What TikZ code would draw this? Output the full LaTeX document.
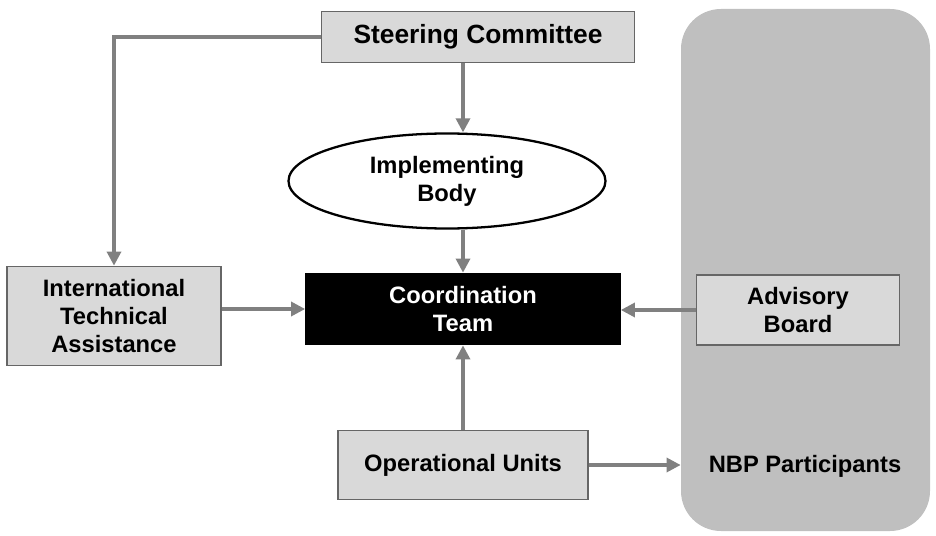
\documentclass[tikz,border=0pt]{standalone}
\usepackage{fontspec}
\setmainfont{Liberation Sans}
\usetikzlibrary{arrows.meta,shapes.geometric}

\tikzset{
  box/.style={draw=black!60, line width=1pt, fill=black!15, align=center,
    font=\fontsize{13.5}{16}\selectfont\bfseries, inner sep=0pt},
  arr/.style={draw=black!50, line width=1.8pt, -{Triangle[length=8pt,width=8pt]}}
}

\begin{document}
\begin{tikzpicture}
\useasboundingbox (0,0) rectangle (18.72,10.7);
\node[draw=none, fill=black!25, rounded corners=0.8cm, minimum width=4.98cm, minimum height=10.44cm] (grp) at (16.11,5.3) {};
\node[font=\fontsize{13.5}{16}\selectfont\bfseries] (nbp) at (16.1,1.38) {NBP Participants};
\node[box, minimum width=6.26cm, minimum height=1.02cm, font=\fontsize{15}{18}\selectfont\bfseries] (sc) at (9.56,9.96) {Steering Committee};
\node[ellipse, draw=black, line width=1.3pt, fill=white, inner sep=0pt, minimum width=6.34cm, minimum height=1.9cm, align=center, font=\fontsize{13.5}{16}\selectfont\bfseries] (ib) at (8.94,7.08) {Implementing\\Body};
\node[box, draw=black, fill=black, text=white, minimum width=6.28cm, minimum height=1.42cm] (ct) at (9.26,4.52) {Coordination\\Team};
\node[box, minimum width=4.28cm, minimum height=1.98cm] (ita) at (2.28,4.38) {International\\Technical\\Assistance};
\node[box, minimum width=4.06cm, minimum height=1.4cm] (ab) at (15.96,4.5) {Advisory\\Board};
\node[box, minimum width=5.0cm, minimum height=1.38cm] (ou) at (9.26,1.4) {Operational Units};
% connectors
\draw[arr] (sc.south -| ct) -- (ib.north -| ct);
\draw[arr] (ib.south -| ct) -- (ct.north);
\draw[arr] (sc.west) -| (ita.north);
\draw[arr] (ita.east |- ct.west) -- (ct.west);
\draw[arr] (ab.west) -- (ab.west -| ct.east);
\draw[arr] (ou.north) -- (ct.south);
\draw[arr] (ou.east) -- (ou.east -| grp.west);
\end{tikzpicture}
\end{document}
